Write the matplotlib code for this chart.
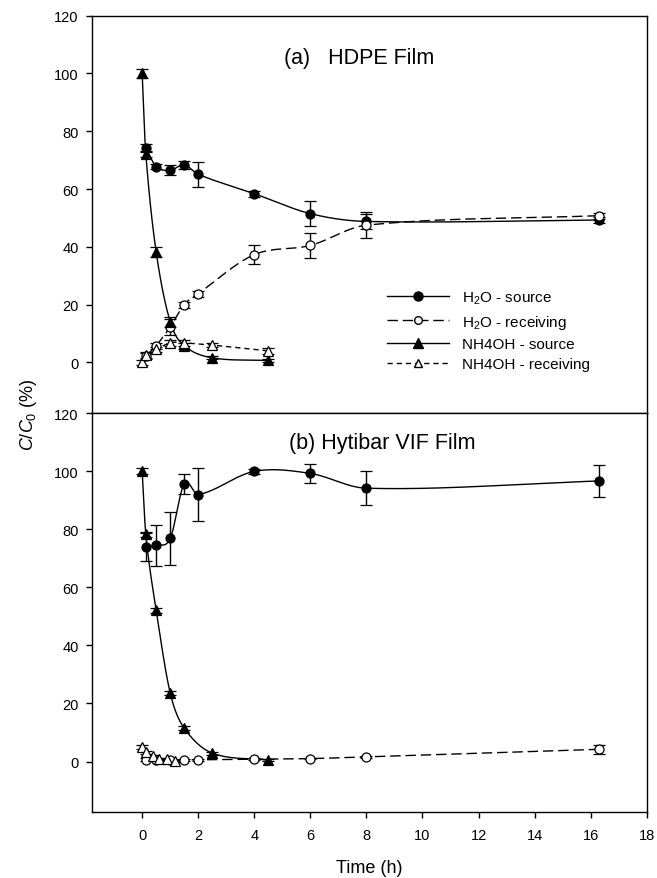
import numpy as np
import matplotlib
matplotlib.use('Agg')
import matplotlib.pyplot as plt
from matplotlib.lines import Line2D

plt.rcParams['font.family'] = ['Liberation Sans', 'DejaVu Sans']
plt.rcParams['mathtext.fontset'] = 'custom'
plt.rcParams['mathtext.rm'] = 'Liberation Sans'
plt.rcParams['mathtext.it'] = 'Liberation Sans:italic'

# ---- (a) HDPE film ----
a_h2o_t = [0.13, 0.5, 1, 1.5, 2, 4, 6, 8, 16.3]
a_h2o_src = [74.2, 67.8, 66.5, 68.4, 65.1, 58.4, 51.5, 48.8, 49.3]
a_h2o_src_err = [1.3, 1.0, 1.7, 1.3, 4.3, 1.0, 4.2, 2.5, 1.0]
a_h2o_rec = [2.2, 5.8, 12.3, 20.0, 23.8, 37.3, 40.5, 47.5, 50.8]
a_h2o_rec_err = [1.0, 1.0, 2.9, 1.0, 1.0, 3.3, 4.2, 4.5, 1.0]
a_nh4_t = [0, 0.13, 0.5, 1, 1.5, 2.5, 4.5]
a_nh4_src = [100, 72.2, 38.2, 14.1, 5.8, 1.6, 0.7]
a_nh4_src_err = [1.5, 1.0, 1.7, 1.7, 1.0, 0.5, 0.5]
a_nh4_rec = [0, 2.5, 4.5, 6.8, 6.8, 6.0, 4.0]
a_nh4_rec_err = [1.0, 1.0, 1.0, 1.0, 1.0, 0.8, 1.0]

# ---- (b) Hytibar VIF film ----
b_h2o_t = [0.13, 0.5, 1, 1.5, 2, 4, 6, 8, 16.3]
b_h2o_src = [73.9, 74.5, 76.8, 95.6, 91.9, 99.9, 99.2, 94.1, 96.6]
b_h2o_src_err = [4.7, 7.1, 9.0, 3.5, 9.1, 0.8, 3.4, 5.9, 5.6]
b_h2o_rec = [0.6, 0.4, 0.5, 0.6, 0.6, 0.8, 1.0, 1.6, 4.2]
b_h2o_rec_err = [0.5, 0.3, 0.3, 0.3, 0.3, 0.3, 0.3, 0.3, 1.5]
b_nh4_t = [0, 0.13, 0.5, 1, 1.5, 2.5, 4.5]
b_nh4_src = [100, 78.2, 52.1, 23.6, 11.5, 2.9, 0.5]
b_nh4_src_err = [0.9, 1.0, 0.8, 0.8, 0.8, 0.5, 0.3]
b_nh4_rec_t = [0, 0.13, 0.4, 0.6, 0.87, 1.17]
b_nh4_rec = [5.0, 3.2, 1.8, 1.0, 1.0, 0.3]
b_nh4_rec_err = [0.8, 0.5, 0.5, 0.3, 0.3, 0.3]

yticks = [0, 20, 40, 60, 80, 100, 120]
xticks = [0, 2, 4, 6, 8, 10, 12, 14, 16, 18]

LONG = (0, (7.5, 3.5))
SHORT = (0, (3.8, 2.8))


def smooth(x, y, n=40):
    """Catmull-Rom style hermite curve through the points"""
    x = np.asarray(x, float)
    y = np.asarray(y, float)
    m = np.empty_like(y)
    m[0] = (y[1] - y[0]) / (x[1] - x[0])
    m[-1] = (y[-1] - y[-2]) / (x[-1] - x[-2])
    m[1:-1] = (y[2:] - y[:-2]) / (x[2:] - x[:-2])
    xs, ys = [], []
    for i in range(len(x) - 1):
        h = x[i + 1] - x[i]
        s = np.linspace(0, 1, n)
        h00 = 2 * s ** 3 - 3 * s ** 2 + 1
        h10 = s ** 3 - 2 * s ** 2 + s
        h01 = -2 * s ** 3 + 3 * s ** 2
        h11 = s ** 3 - s ** 2
        xs.append(x[i] + s * h)
        ys.append(h00 * y[i] + h10 * h * m[i] + h01 * y[i + 1] + h11 * h * m[i + 1])
    return np.concatenate(xs), np.concatenate(ys)


def series(ax, t, y, err, marker, face, ls):
    xs, ys = smooth(t, y)
    ax.plot(xs, ys, color='black', lw=1.0, ls=ls, zorder=2)
    ax.errorbar(t, y, yerr=err, fmt=marker, ms=6.5, mfc=face, mec='black',
                mew=0.9, ecolor='black', elinewidth=1.0, capsize=4.3,
                capthick=1.0, zorder=3)


def style(ax, bottom):
    ax.set_xlim(-1.8, 18)
    ax.set_ylim(-17.5, 120)
    ax.set_yticks(yticks)
    ax.tick_params(axis='y', direction='out', length=4.5, width=1,
                   labelsize=10.5, pad=5)
    if bottom:
        ax.set_xticks(xticks)
        ax.tick_params(axis='x', direction='out', length=4.5, width=1,
                       labelsize=10.5, pad=7)
    else:
        ax.set_xticks([])
    for s in ax.spines.values():
        s.set_linewidth(1.0)


fig = plt.figure(figsize=(6.57, 8.79), dpi=100)
ax1 = fig.add_axes([0.1396, 0.529, 0.8447, 0.452])
ax2 = fig.add_axes([0.1396, 0.0747, 0.8447, 0.4543])

series(ax1, a_h2o_t, a_h2o_src, a_h2o_src_err, 'o', 'black', '-')
series(ax1, a_h2o_t, a_h2o_rec, a_h2o_rec_err, 'o', 'white', LONG)
series(ax1, a_nh4_t, a_nh4_src, a_nh4_src_err, '^', 'black', '-')
series(ax1, a_nh4_t, a_nh4_rec, a_nh4_rec_err, '^', 'white', SHORT)

series(ax2, b_h2o_t, b_h2o_src, b_h2o_src_err, 'o', 'black', '-')
series(ax2, b_h2o_t, b_h2o_rec, b_h2o_rec_err, 'o', 'white', LONG)
series(ax2, b_nh4_t, b_nh4_src, b_nh4_src_err, '^', 'black', '-')
series(ax2, b_nh4_rec_t, b_nh4_rec, b_nh4_rec_err, '^', 'white', SHORT)

style(ax1, False)
style(ax2, True)

ax1.text(0.4816, 0.896, '(a)   HDPE Film', transform=ax1.transAxes,
         ha='center', va='center', fontsize=15.5)
ax2.text(0.524, 0.9266, '(b) Hytibar VIF Film', transform=ax2.transAxes,
         ha='center', va='center', fontsize=15.5)

handles = [
    Line2D([], [], color='black', lw=1, ls='-', marker='o', ms=6.5, mfc='black'),
    Line2D([], [], color='black', lw=1, ls=LONG, marker='o', ms=5.5, mfc='white'),
    Line2D([], [], color='black', lw=1, ls='-', marker='^', ms=6.5, mfc='black'),
    Line2D([], [], color='black', lw=1, ls=SHORT, marker='^', ms=5.5, mfc='white'),
]
labels = ['H$_2$O - source', 'H$_2$O - receiving', 'NH4OH - source',
          'NH4OH - receiving']
ax1.legend(handles, labels, loc='upper left', bbox_to_anchor=(0.5315, 0.31),
           frameon=False, fontsize=11, handlelength=4.1, handletextpad=0.85,
           labelspacing=0.42, borderpad=0, borderaxespad=0, numpoints=1)

ax2.set_xlabel('Time (h)', fontsize=13, labelpad=12)
fig.text(0.043, 0.528, '$C/C_0$ (%)', rotation=90, ha='center', va='center',
         fontsize=13)

plt.savefig('out.png', dpi=100)
plt.close()
